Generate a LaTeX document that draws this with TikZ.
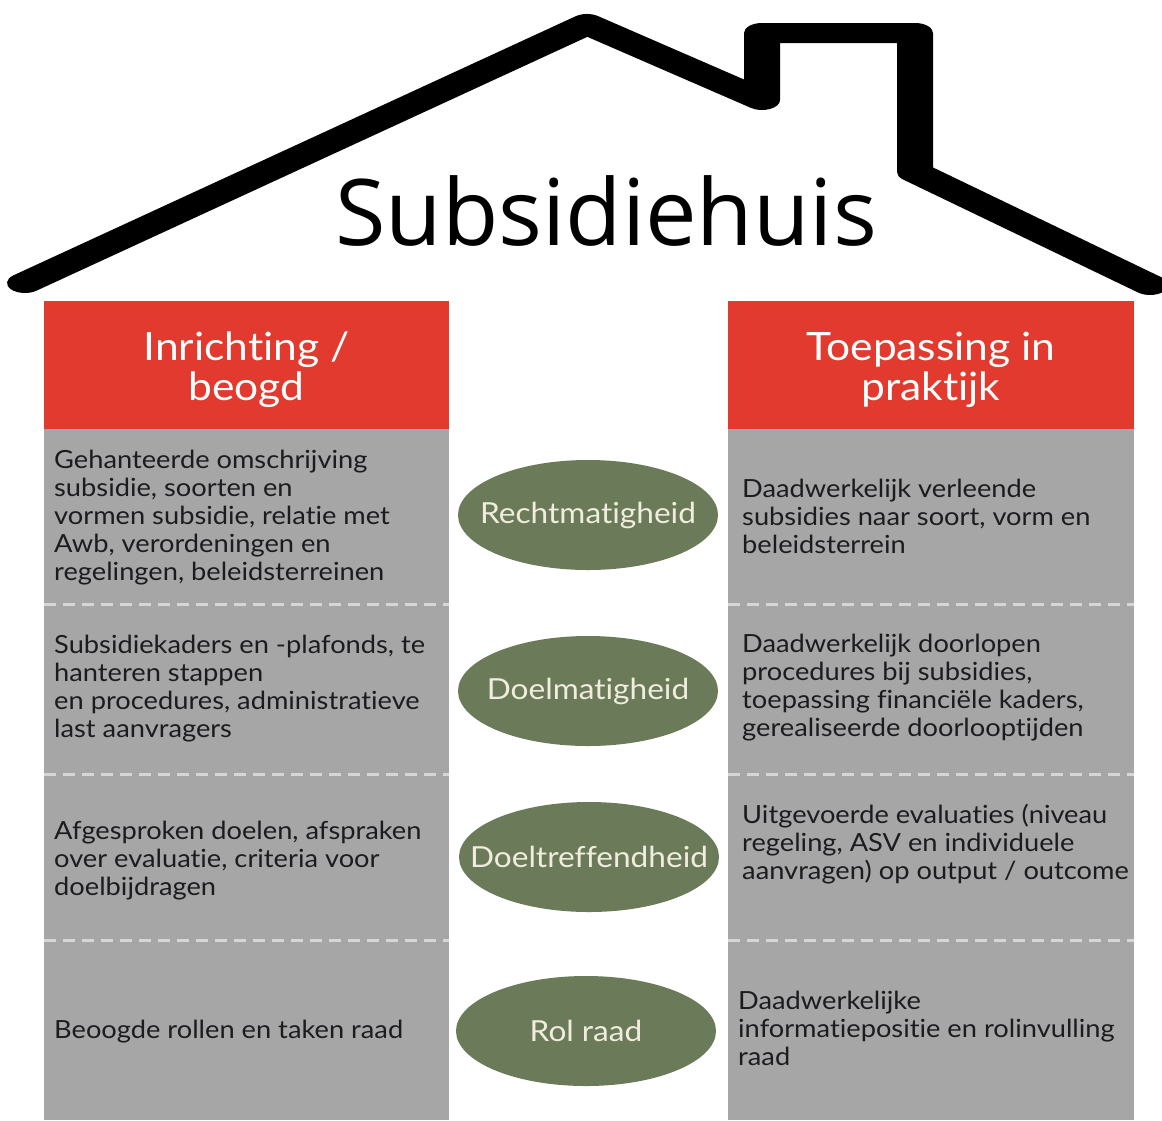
\documentclass[tikz,border=0pt]{standalone}
\usepackage{fontspec}
\setmainfont{Lato}[FakeStretch=1.09, Ligatures=NoCommon]
\newfontfamily\titlefont{Open Sans}
\usetikzlibrary{shapes.geometric}
\definecolor{hred}{RGB}{226,58,46}
\definecolor{cgray}{RGB}{166,166,166}
\definecolor{egreen}{RGB}{107,122,89}
\definecolor{etext}{RGB}{240,237,222}
\definecolor{btext}{RGB}{28,28,32}
\definecolor{sepc}{RGB}{214,214,214}
\newcommand{\topstrut}[1]{\rule{0pt}{#1pt}}
\begin{document}
\begin{tikzpicture}[x=1pt,y=-1pt,
  roofline/.style={line width=20pt, line cap=round, line join=round},
  headerbox/.style={fill=hred},
  columnbox/.style={fill=cgray},
  headtext/.style={anchor=north, align=center, inner sep=0pt, text=white, font=\fontsize{39}{40}\selectfont},
  bodytext/.style={anchor=north west, align=left, inner sep=0pt, text=btext, font=\fontsize{25}{28}\selectfont},
  pill/.style={ellipse, fill=egreen, minimum width=260pt, minimum height=110pt, inner sep=0pt, text=etext, font=\fontsize{29}{29}\selectfont},
  sepline/.style={draw=sepc, line width=3pt, dash pattern=on 12pt off 7pt},
  titletext/.style={anchor=base, inner sep=0pt, font=\titlefont\fontsize{92}{92}\selectfont}
]
\fill[white] (0,0) rectangle (1162,1120);
\useasboundingbox (0,0) rectangle (1162,1120);

% columns
\fill[columnbox] (44,429) rectangle (449,1120);
\fill[columnbox] (728,429) rectangle (1134,1120);
\fill[headerbox] (44,301) rectangle (449,429);
\fill[headerbox] (728,301) rectangle (1134,429);

% separators
\foreach \yy in {604,774,940} {
  \draw[sepline] (44,\yy) -- (449,\yy);
  \draw[sepline] (728,\yy) -- (1134,\yy);
}

% roof
\begin{scope}[transform canvas={xscale=1.8}]
\draw[roofline] ({25/1.8},283) -- ({587/1.8},24) -- ({762/1.8},100) -- ({762/1.8},33) -- ({915/1.8},33) -- ({915/1.8},172) -- ({1150/1.8},285);
\end{scope}

% title
\node[titletext] (title) at (606,245) {Subsidiehuis};

% headers
\node[headtext] (hleft) at (246.5,326) {\topstrut{34}Inrichting /\\beogd};
\node[headtext] (hright) at (931,326) {\topstrut{34}Toepassing in\\praktijk};

% left texts
\node[bodytext] (l1) at (54,446) {\topstrut{22}Gehanteerde omschrijving\\subsidie, soorten en\\vormen subsidie, relatie met\\Awb, verordeningen en\\regelingen, beleidsterreinen};
\node[bodytext] (l2) at (54,631) {\topstrut{22}Subsidiekaders en -plafonds, te\\hanteren stappen\\en procedures, administratieve\\last aanvragers};
\node[bodytext] (l3) at (54,817) {\topstrut{22}Afgesproken doelen, afspraken\\over evaluatie, criteria voor\\doelbijdragen};
\node[bodytext] (l4) at (54,1016) {\topstrut{22}Beoogde rollen en taken raad};

% right texts
\node[bodytext] (r1) at (742,475) {\topstrut{22}Daadwerkelijk verleende\\subsidies naar soort, vorm en\\beleidsterrein};
\node[bodytext] (r2) at (742,630) {\topstrut{22}Daadwerkelijk doorlopen\\procedures bij subsidies,\\toepassing financiële kaders,\\gerealiseerde doorlooptijden};
\node[bodytext] (r3) at (742,801) {\topstrut{22}Uitgevoerde evaluaties (niveau\\regeling, ASV en individuele\\aanvragen) op output / outcome};
\node[bodytext] (r4) at (738,987) {\topstrut{22}Daadwerkelijke\\informatiepositie en rolinvulling\\raad};

% ellipses
\node[pill] (e1) at (588,515) {\makebox[0pt]{Rechtmatigheid}};
\node[pill] (e2) at (588,691) {\makebox[0pt]{Doelmatigheid}};
\node[pill] (e3) at (589,857) {\makebox[0pt]{Doeltreffendheid}};
\node[pill] (e4) at (586,1031) {\makebox[0pt]{Rol raad}};
\end{tikzpicture}
\end{document}
